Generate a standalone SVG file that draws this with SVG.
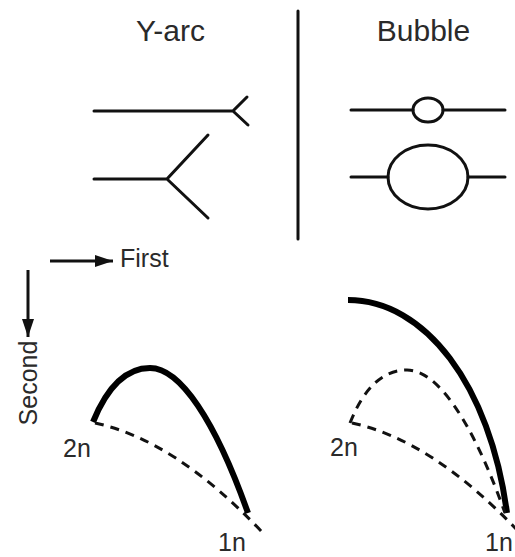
<svg xmlns="http://www.w3.org/2000/svg" width="515" height="557" viewBox="0 0 515 557">
<style>
.t{font-family:"Liberation Sans",Arial,sans-serif;fill:#2a2a2a}
.title{font-size:30px}
.lbl{font-size:25px}
.ln{stroke:#111;stroke-width:3;fill:none;stroke-linecap:round}
.thick{stroke:#000;stroke-width:6;fill:none;stroke-linecap:butt}
.dash{stroke:#111;stroke-width:3;fill:none;stroke-dasharray:9,7}
</style>
<defs>
<marker id="ah" markerWidth="18" markerHeight="12" refX="18" refY="6" orient="auto" markerUnits="userSpaceOnUse">
<path d="M0,0 L18,6 L0,12 Z" fill="#111"/>
</marker>
</defs>
<rect width="515" height="557" fill="#fff"/>
<g id="titles">
<text class="t title" x="170.5" y="41" text-anchor="middle">Y-arc</text>
<text class="t title" x="423.5" y="41" text-anchor="middle">Bubble</text>
</g>
<g id="divider"><line class="ln" x1="298" y1="11" x2="298" y2="239"/></g>
<g id="yarc-small">
<path class="ln" d="M94,111 H233 M247,97 L233,111 L248,125"/>
</g>
<g id="yarc-large">
<path class="ln" d="M94,179 H167 M208,135 L167,179 L208,218"/>
</g>
<g id="bubble-small">
<path class="ln" d="M351,110 H413 M443,110 H505"/>
<ellipse class="ln" cx="428" cy="110" rx="15" ry="12"/>
</g>
<g id="bubble-large">
<path class="ln" d="M351,177 H388 M468,177 H505"/>
<ellipse class="ln" cx="428" cy="177" rx="40" ry="32"/>
</g>
<g id="connectors">
<line x1="50" y1="261" x2="113" y2="261" stroke="#111" stroke-width="3" marker-end="url(#ah)"/>
<line x1="28" y1="270" x2="28" y2="337" stroke="#111" stroke-width="3" marker-end="url(#ah)"/>
<path class="thick" d="M93,422 C108,385 128,368 150,368 C180,368 215,420 248,513"/>
<path class="dash" d="M95,423 Q175,440 262,532"/>
<path class="thick" d="M348,300 C425,300 490,385 507,513"/>
<path class="dash" d="M350,423 C365,385 385,370 407,370 C437,370 472,420 505,513"/>
<path class="dash" d="M352,423 Q432,440 519,532"/>
</g>
<g id="axis-labels">
<text class="t lbl" x="120" y="267">First</text>
<text class="t lbl" transform="translate(37,383) rotate(-90)" text-anchor="middle">Second</text>
</g>
<g id="point-labels">
<text class="t lbl" x="63" y="457">2n</text>
<text class="t lbl" x="218" y="551">1n</text>
<text class="t lbl" x="330" y="456">2n</text>
<text class="t lbl" x="485" y="551">1n</text>
</g>
</svg>
